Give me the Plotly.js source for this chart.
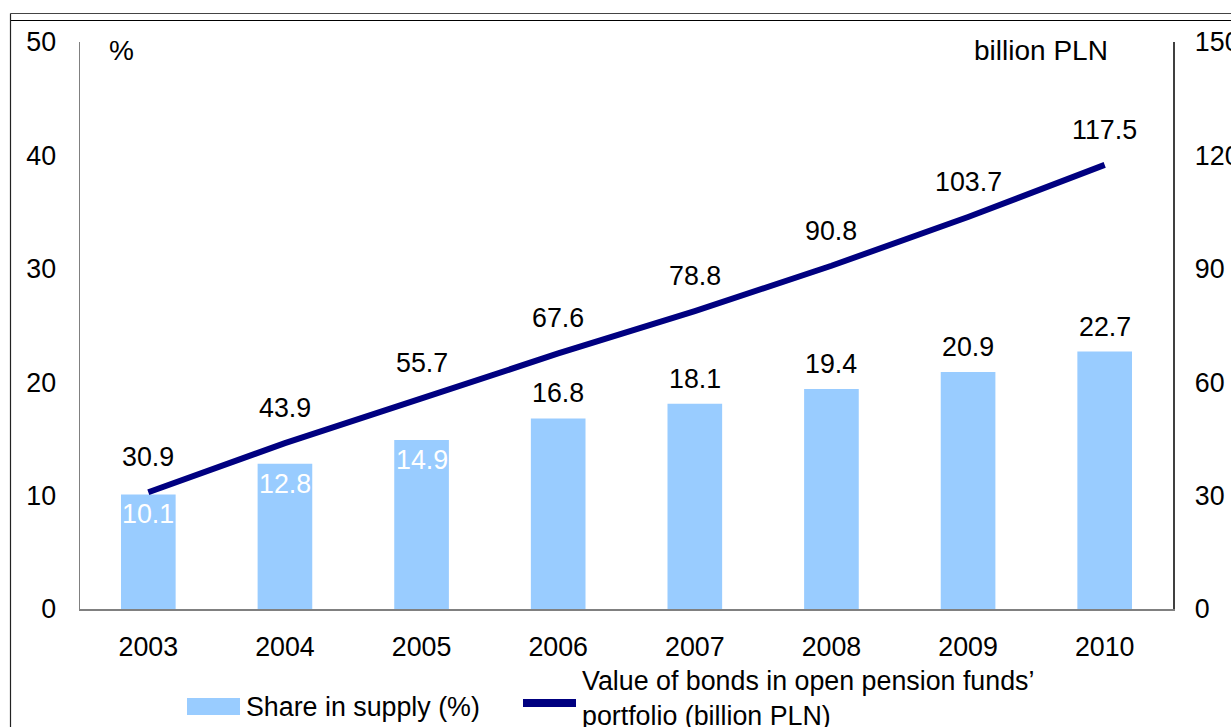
<!DOCTYPE html>
<html>
<head>
<meta charset="utf-8">
<script src="https://cdn.plot.ly/plotly-3.0.1.min.js"></script>
<style>html,body{margin:0;padding:0;background:#fff;}#chart{width:1231px;height:727px;}</style>
</head>
<body>
<div id="chart"></div>
<script>
const years = ['2003','2004','2005','2006','2007','2008','2009','2010'];
const shareInSupply = [10.1, 12.8, 14.9, 16.8, 18.1, 19.4, 20.9, 22.7];
const bondValue = [30.9, 43.9, 55.7, 67.6, 78.8, 90.8, 103.7, 117.5];
const leftTicks = [0, 10, 20, 30, 40, 50];
const rightTicks = [0, 30, 60, 90, 120, 150];
const barName = 'Share in supply (%)';
const lineName = 'Value of bonds in open pension funds’<br>portfolio (billion PLN)';

const FONT = 'Liberation Sans, Arial, sans-serif';
const FS = 26.8;
const FS_UNIT = 28;
const W = 1231, H = 727, L = 80, R = 58, T = 42, B = 118;
const pw = W - L - R, ph = H - T - B;
const px = x => (x - L) / pw;
const py = y => (H - B - y) / ph;

const bars = {
  type: 'bar', x: years, y: shareInSupply, name: barName,
  marker: {color: '#99CCFF'}, width: 0.4, yaxis: 'y', hoverinfo: 'x+y'
};
const line = {
  type: 'scatter', mode: 'lines', x: years, y: bondValue, name: lineName,
  line: {color: '#000080', width: 6}, yaxis: 'y2', hoverinfo: 'x+y'
};

const annotations = [];
shareInSupply.forEach((v, i) => {
  const inside = i < 3;
  annotations.push({
    x: i, y: v, xref: 'x', yref: 'y', text: v.toFixed(1), showarrow: false,
    yshift: inside ? -20 : 25, font: {family: FONT, size: FS, color: inside ? '#ffffff' : '#000000'}
  });
});
bondValue.forEach((v, i) => {
  annotations.push({
    x: i, y: v, xref: 'x', yref: 'y2', text: v.toFixed(1), showarrow: false,
    yshift: 35, font: {family: FONT, size: FS, color: '#000000'}
  });
});
annotations.push({x: px(107), y: py(50), xref: 'paper', yref: 'paper', text: '%', showarrow: false,
  xanchor: 'left', yanchor: 'middle', font: {family: FONT, size: FS_UNIT, color: '#000'}});
annotations.push({x: px(1110), y: py(50), xref: 'paper', yref: 'paper', text: 'billion PLN', showarrow: false,
  xanchor: 'right', yanchor: 'middle', font: {family: FONT, size: FS_UNIT, color: '#000'}});
annotations.push({x: px(244), y: py(707), xref: 'paper', yref: 'paper', text: barName, showarrow: false,
  xanchor: 'left', yanchor: 'middle', font: {family: FONT, size: FS, color: '#000'}});
annotations.push({x: px(580), y: py(699), xref: 'paper', yref: 'paper', text: lineName, showarrow: false,
  xanchor: 'left', yanchor: 'middle', align: 'left', font: {family: FONT, size: FS, color: '#000'}});

const shapes = [
  {type: 'rect', xref: 'paper', yref: 'paper', x0: px(187), x1: px(240), y0: py(715), y1: py(698),
   fillcolor: '#99CCFF', line: {width: 0}},
  {type: 'line', xref: 'paper', yref: 'paper', x0: px(523), x1: px(576), y0: py(703), y1: py(703),
   line: {color: '#000080', width: 8}},
  {type: 'line', xref: 'paper', yref: 'paper', x0: px(10.5), x1: px(1231), y0: py(13.5), y1: py(13.5),
   line: {color: '#444', width: 1.2}},
  {type: 'line', xref: 'paper', yref: 'paper', x0: px(10.5), x1: px(1231), y0: py(20.5), y1: py(20.5),
   line: {color: '#000', width: 1.2}},
  {type: 'line', xref: 'paper', yref: 'paper', x0: px(10.5), x1: px(10.5), y0: py(13.5), y1: py(727),
   line: {color: '#222', width: 1.2}}
];

const layout = {
  width: W, height: H,
  margin: {l: L, r: R, t: T, b: B, pad: 0},
  paper_bgcolor: '#fff', plot_bgcolor: '#fff',
  showlegend: false,
  font: {family: FONT, size: FS, color: '#000'},
  xaxis: {
    type: 'category', range: [-0.5, years.length - 0.5], autorange: false,
    showline: true, linecolor: '#808080', linewidth: 1.5,
    ticks: '', showgrid: false, zeroline: false, ticklabelstandoff: 13,
    tickfont: {family: FONT, size: FS, color: '#000'}
  },
  yaxis: {
    range: [0, 50], autorange: false, tickvals: leftTicks, ticktext: leftTicks.map(String),
    showline: true, linecolor: '#808080', linewidth: 1.5, ticks: '',
    showgrid: false, zeroline: false, ticklabelstandoff: 17,
    tickfont: {family: FONT, size: FS, color: '#000'}
  },
  yaxis2: {
    range: [0, 150], autorange: false, tickvals: rightTicks, ticktext: rightTicks.map(String),
    overlaying: 'y', side: 'right', showline: true, linecolor: '#404040', linewidth: 1.5,
    ticks: '', showgrid: false, zeroline: false, ticklabelstandoff: 15,
    tickfont: {family: FONT, size: FS, color: '#000'}
  },
  annotations: annotations,
  shapes: shapes
};

Plotly.newPlot('chart', [bars, line], layout, {displayModeBar: false, staticPlot: true});
</script>
</body>
</html>
